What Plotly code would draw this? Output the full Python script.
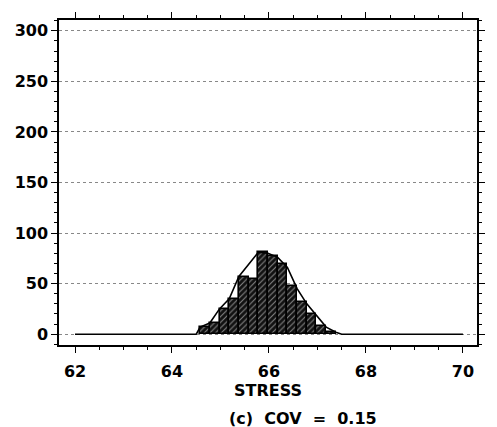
import plotly.graph_objects as go

# Histogram bins (centers) and counts
bin_centers = [64.68, 64.88, 65.08, 65.28, 65.48, 65.68, 65.88, 66.08, 66.28, 66.48, 66.68, 66.88, 67.08, 67.28]
counts = [7, 11, 25, 35, 57, 55, 81, 77, 69, 48, 32, 20, 8, 2]

# Frequency polygon overlay
poly_x = [62.0, 64.5, 64.58, 64.78, 64.98, 65.18, 65.38, 65.78, 65.98, 66.18, 66.38, 66.58, 66.78, 66.98, 67.18, 67.38, 67.5, 70.0]
poly_y = [0, 0, 7, 11, 25, 35, 57, 81, 80, 76, 66, 45, 30, 18, 7, 2, 0, 0]

x_ticks = [62, 64, 66, 68, 70]
y_ticks = [0, 50, 100, 150, 200, 250, 300]

FONT = "DejaVu Sans"
NB = "\u00a0"

fig = go.Figure()
fig.add_trace(go.Bar(
    x=bin_centers, y=counts, width=0.2,
    marker=dict(
        color="#111111",
        line=dict(color="black", width=1.6),
        pattern=dict(shape="/", fgcolor="white", size=4, solidity=0.25, fillmode="overlay"),
    ),
    showlegend=False,
))
fig.add_trace(go.Scatter(
    x=poly_x, y=poly_y, mode="lines",
    line=dict(color="black", width=1.6),
    showlegend=False,
))

axis_common = dict(
    showline=True, linecolor="black", linewidth=1.5, mirror="ticks",
    ticks="outside", tickcolor="black", tickwidth=1.2, ticklen=6,
    tickfont=dict(family=FONT, size=16, color="black", weight="bold"),
    zeroline=False,
)

fig.update_xaxes(
    range=[61.67, 70.29], tickvals=x_ticks, showgrid=False, ticklabelstandoff=5,
    minor=dict(dtick=0.5, ticks="outside", ticklen=3, tickcolor="black", tickwidth=1, showgrid=False),
    title=dict(text="STRESS", font=dict(family=FONT, size=16, color="black", weight="bold"), standoff=0),
    **axis_common,
)
fig.update_yaxes(
    range=[-10.7, 310.7], tickvals=y_ticks,
    showgrid=True, gridcolor="#888", griddash="dot", gridwidth=1,
    minor=dict(dtick=10, ticks="outside", ticklen=3, tickcolor="black", tickwidth=1, showgrid=False),
    **axis_common,
)

caption = "(c)" + NB * 2 + "COV" + NB * 2 + "=" + NB * 2 + "0.15"
fig.add_annotation(
    text=caption, xref="paper", yref="paper", x=0.584, y=-0.226,
    showarrow=False, xanchor="center", yanchor="middle",
    font=dict(family=FONT, size=16, color="black", weight="bold"),
)

fig.update_layout(
    width=497, height=427,
    margin=dict(l=59, r=20, t=14, b=82),
    paper_bgcolor="white", plot_bgcolor="white",
    bargap=0,
)

fig.write_html("out.html")
